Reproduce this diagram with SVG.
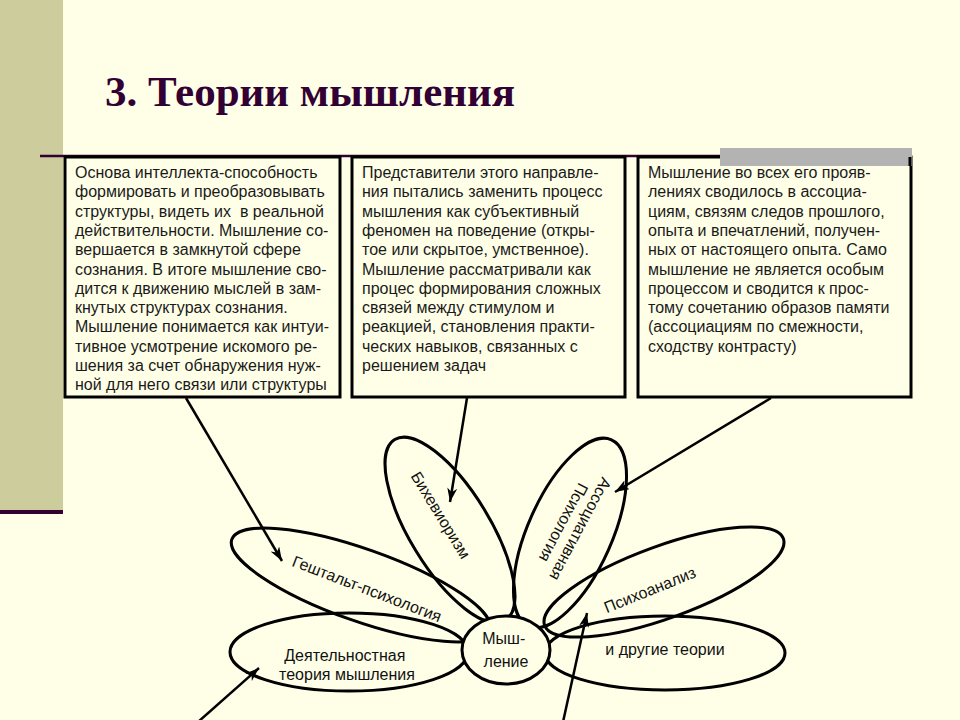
<svg xmlns="http://www.w3.org/2000/svg" width="960" height="720" viewBox="0 0 960 720">
<defs>
<marker id="arr" markerUnits="userSpaceOnUse" markerWidth="16" markerHeight="12" refX="14" refY="5" orient="auto">
<path d="M0,0 L14,5 L0,10 L4,5 z" fill="#000"/>
</marker>
<style>
.box{fill:#FFFFE8;stroke:#000;stroke-width:3}
.bt{font-family:"Liberation Sans",Arial,sans-serif;font-size:16px;fill:#1a1a1a}
.pet{fill:none;stroke:#000;stroke-width:3}
.pt{font-family:"Liberation Sans",Arial,sans-serif;font-size:16px;fill:#111}
.con{stroke:#000;stroke-width:2.5;fill:none;marker-end:url(#arr)}
</style>
</defs>
<rect x="0" y="0" width="960" height="720" fill="#FFFFE8"/>
<rect x="0" y="0" width="63" height="512" fill="#CCCC9C"/>
<line x1="0" y1="512" x2="63" y2="512" stroke="#330033" stroke-width="4"/>
<line x1="40" y1="156" x2="720" y2="156" stroke="#330033" stroke-width="2.5"/>
<text x="105" y="106" font-family="Liberation Serif,'Times New Roman',serif" font-weight="bold" font-size="43" fill="#330033">3. Теории мышления</text>

<g id="box1">
<rect class="box" x="65" y="157" width="275" height="240"/>
<text class="bt" x="75" y="178">
<tspan x="75" dy="0">Основа интеллекта-способность</tspan>
<tspan x="75" dy="19.3">формировать и преобразовывать</tspan>
<tspan x="75" dy="19.3">структуры, видеть их&#160; в реальной</tspan>
<tspan x="75" dy="19.3">действительности. Мышление со-</tspan>
<tspan x="75" dy="19.3">вершается в замкнутой сфере</tspan>
<tspan x="75" dy="19.3">сознания. В итоге мышление сво-</tspan>
<tspan x="75" dy="19.3">дится к движению мыслей в зам-</tspan>
<tspan x="75" dy="19.3">кнутых структурах сознания.</tspan>
<tspan x="75" dy="19.3">Мышление понимается как интуи-</tspan>
<tspan x="75" dy="19.3">тивное усмотрение искомого ре-</tspan>
<tspan x="75" dy="19.3">шения за счет обнаружения нуж-</tspan>
<tspan x="75" dy="19.3">ной для него связи или структуры</tspan>
</text>
</g>

<g id="box2">
<rect class="box" x="352" y="157" width="273" height="240"/>
<text class="bt" x="362" y="178">
<tspan x="362" dy="0">Представители этого направле-</tspan>
<tspan x="362" dy="19.3">ния пытались заменить процесс</tspan>
<tspan x="362" dy="19.3">мышления как субъективный</tspan>
<tspan x="362" dy="19.3">феномен на поведение (откры-</tspan>
<tspan x="362" dy="19.3">тое или скрытое, умственное).</tspan>
<tspan x="362" dy="19.3">Мышление рассматривали как</tspan>
<tspan x="362" dy="19.3">процес формирования сложных</tspan>
<tspan x="362" dy="19.3">связей между стимулом и</tspan>
<tspan x="362" dy="19.3">реакцией, становления практи-</tspan>
<tspan x="362" dy="19.3">ческих навыков, связанных с</tspan>
<tspan x="362" dy="19.3">решением задач</tspan>
</text>
</g>

<g id="box3">
<rect class="box" x="638" y="157" width="273" height="240"/>
<rect x="720" y="148" width="192" height="18" fill="#B3B3B3"/>
<line x1="910" y1="157" x2="910" y2="166" stroke="#000" stroke-width="3"/>
<text class="bt" x="648" y="178">
<tspan x="648" dy="0">Мышление во всех его прояв-</tspan>
<tspan x="648" dy="19.3">лениях сводилось в ассоциа-</tspan>
<tspan x="648" dy="19.3">циям, связям следов прошлого,</tspan>
<tspan x="648" dy="19.3">опыта и впечатлений, получен-</tspan>
<tspan x="648" dy="19.3">ных от настоящего опыта. Само</tspan>
<tspan x="648" dy="19.3">мышление не является особым</tspan>
<tspan x="648" dy="19.3">процессом и сводится к прос-</tspan>
<tspan x="648" dy="19.3">тому сочетанию образов памяти</tspan>
<tspan x="648" dy="19.3">(ассоциациям по смежности,</tspan>
<tspan x="648" dy="19.3">сходству контрасту)</tspan>
</text>
</g>

<g id="petal-gestalt">
<ellipse class="pet" cx="361" cy="585" rx="137" ry="36" transform="rotate(19.5 361 585)"/>
<text class="pt" x="365" y="594" text-anchor="middle" transform="rotate(21 365 594)">Гештальт-психология</text>
</g>
<g id="petal-behaviorism">
<ellipse class="pet" cx="450" cy="530" rx="106" ry="40" transform="rotate(58.6 450 530)"/>
<text class="pt" x="436" y="518" text-anchor="middle" transform="rotate(58.6 436 518)">Бихевиоризм</text>
</g>
<g id="petal-assoc">
<ellipse class="pet" cx="570" cy="533" rx="102" ry="42" transform="rotate(114 570 533)"/>
<text class="pt" text-anchor="middle" transform="translate(572 527) rotate(118)">
<tspan x="0" y="-3">Ассоциативная</tspan>
<tspan x="0" y="15">Психология</tspan>
</text>
</g>
<g id="petal-psychoanalysis">
<ellipse class="pet" cx="664" cy="582" rx="127" ry="36" transform="rotate(-20 664 582)"/>
<text class="pt" x="652" y="595" text-anchor="middle" transform="rotate(-22 652 595)">Психоанализ</text>
</g>
<g id="petal-activity">
<ellipse class="pet" cx="349" cy="652" rx="119" ry="39"/>
<text class="pt" text-anchor="middle">
<tspan x="347" y="661">Деятельностная</tspan>
<tspan x="347" y="680">теория мышления</tspan>
</text>
</g>
<g id="petal-other">
<ellipse class="pet" cx="665" cy="653" rx="120" ry="37"/>
<text class="pt" x="665" y="655" text-anchor="middle">и другие теории</text>
</g>
<g id="center">
<ellipse cx="506" cy="650" rx="44" ry="34" fill="#FFFFE8" stroke="#000" stroke-width="3"/>
<text class="pt" text-anchor="middle">
<tspan x="506" y="644">Мыш-</tspan>
<tspan x="506" y="667">ление</tspan>
</text>
</g>

<g id="connectors">
<line class="con" x1="186" y1="398" x2="282" y2="561"/>
<line class="con" x1="467" y1="398" x2="450" y2="502"/>
<line class="con" x1="771" y1="398" x2="615" y2="492"/>
<line class="con" x1="198" y1="722" x2="259" y2="668"/>
<line class="con" x1="563" y1="722" x2="587" y2="613"/>
</g>
</svg>
